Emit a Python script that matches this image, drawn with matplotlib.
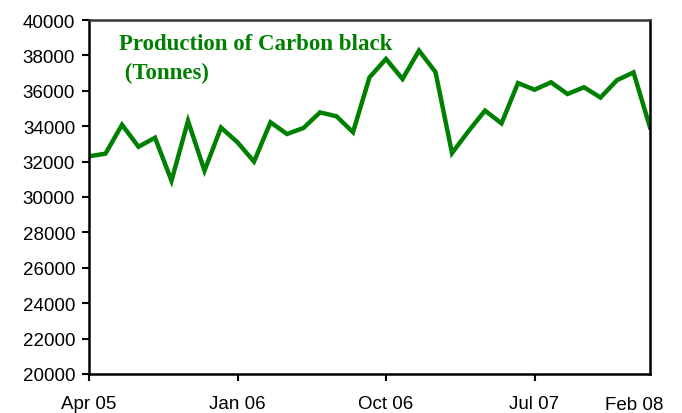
import matplotlib
matplotlib.use("Agg")
import matplotlib.pyplot as plt
import matplotlib.transforms as mtransforms

months = ["Apr 05", "May 05", "Jun 05", "Jul 05", "Aug 05", "Sep 05", "Oct 05", "Nov 05", "Dec 05",
          "Jan 06", "Feb 06", "Mar 06", "Apr 06", "May 06", "Jun 06", "Jul 06", "Aug 06", "Sep 06",
          "Oct 06", "Nov 06", "Dec 06", "Jan 07", "Feb 07", "Mar 07", "Apr 07", "May 07", "Jun 07",
          "Jul 07", "Aug 07", "Sep 07", "Oct 07", "Nov 07", "Dec 07", "Jan 08", "Feb 08"]
production = [32300, 32450, 34080, 32840, 33350, 30920, 34300, 31490, 33920,
              33090, 32000, 34220, 33560, 33900, 34780, 34560, 33660, 36760,
              37800, 36670, 38270, 37060, 32480, 33720, 34880, 34160, 36440,
              36060, 36480, 35820, 36200, 35620, 36600, 37040, 33940]
tick_labels = ["Apr 05", "Jan 06", "Oct 06", "Jul 07"]
end_label = "Feb 08"
title_lines = ["Production of Carbon black", " (Tonnes)"]

green = "#008000"
plt.rcParams['font.family'] = ['Liberation Sans', 'DejaVu Sans']
fs = 13.5

fig = plt.figure(figsize=(6.82, 4.14), dpi=100)
ax = fig.add_axes([89/682, 1-375/414, (650-89)/682, (375-21)/414])

x = list(range(len(months)))
ax.plot(x, production, color=green, linewidth=3.2, solid_joinstyle='miter')

ax.set_xlim(0, len(months)-1)
ax.set_ylim(20000, 40000)
ax.set_yticks(range(20000, 40001, 2000))
ax.set_yticklabels([str(v) for v in range(20000, 40001, 2000)], fontsize=fs)
tick_pos = [months.index(t) for t in tick_labels]
ax.set_xticks(tick_pos)
ax.set_xticklabels(tick_labels, fontsize=fs)
ax.tick_params(axis='y', direction='out', length=5, width=1.5, pad=5)
ax.tick_params(axis='x', direction='out', length=5, width=1.5, pad=10)

trans = mtransforms.blended_transform_factory(ax.transData, ax.transAxes) + \
    mtransforms.ScaledTranslation(-16/100, 0, fig.dpi_scale_trans)
ax.text(months.index(end_label), -0.063, end_label, transform=trans, fontsize=fs,
        ha='center', va='top')

for side in ['left', 'bottom', 'right']:
    ax.spines[side].set_linewidth(1.8)
    ax.spines[side].set_color('black')
ax.spines['top'].set_linewidth(1.8)
ax.spines['top'].set_color('#333333')

ax.text(30/561, 0.918, title_lines[0], transform=ax.transAxes, fontsize=16.5,
        fontweight='bold', color=green, family=['Liberation Serif'], va='baseline', ha='left')
ax.text(30/561, 0.836, title_lines[1], transform=ax.transAxes, fontsize=16.5,
        fontweight='bold', color=green, family=['Liberation Serif'], va='baseline', ha='left')

fig.savefig("out.png", dpi=100)
